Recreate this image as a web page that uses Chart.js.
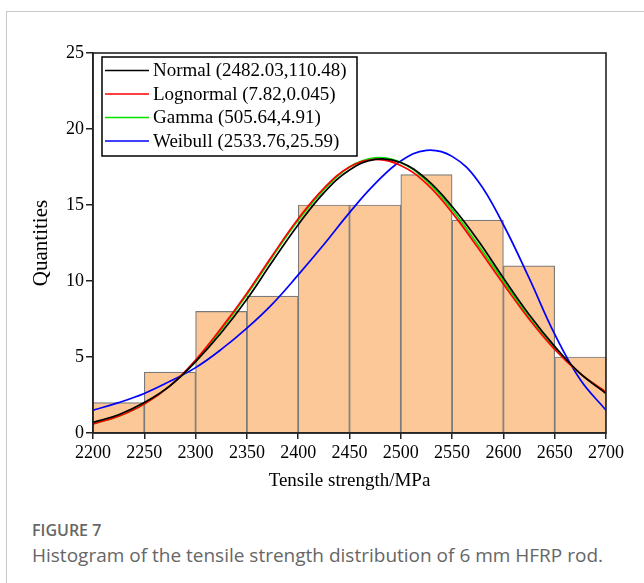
<!DOCTYPE html>
<html>
<head>
<meta charset="utf-8">
<title>Figure 7</title>
<script src="https://cdn.jsdelivr.net/npm/chart.js@4.4.1/dist/chart.umd.min.js"></script>
<style>
    body { margin: 0; background: #fff; width: 644px; height: 583px; overflow: hidden; position: relative; }
    .card { position: absolute; left: 6px; top: 11px; width: 700px; height: 600px; border-left: 1px solid #c8c8c8; border-top: 1px solid #c8c8c8; }
    #wrap { position: absolute; left: 0; top: 0; width: 644px; height: 505px; }
    .fig { position: absolute; left: 32px; top: 522px; font: 600 16px/17px "Open Sans", sans-serif; color: #666; }
    .cap { position: absolute; left: 32px; top: 546px; font: 19px/19px "Open Sans", sans-serif; color: #666; white-space: nowrap; }
</style>
</head>
<body>
<div class="card"></div>
<div id="wrap"><canvas id="chart-1" width="644" height="505"></canvas></div>
<div class="fig">FIGURE 7</div>
<div class="cap">Histogram of the tensile strength distribution of 6 mm HFRP rod.</div>

<script>
// histogram bins (centre of each 50 MPa bin) and counts
const binCenters = [2225, 2275, 2325, 2375, 2425, 2475, 2525, 2575, 2625, 2675]
const counts = [2, 4, 8, 9, 15, 15, 17, 14, 11, 5]

// fitted curves, every 25 MPa
const curveX = [2200, 2225, 2250, 2275, 2300, 2325, 2350, 2375, 2400, 2425, 2450,
                2475, 2500, 2525, 2550, 2575, 2600, 2625, 2650, 2675, 2700]
const normalFit    = [0.7, 1.2, 2.0, 3.1, 4.7, 6.6, 8.8, 11.3, 13.7, 15.8, 17.3, 18.0, 17.8, 16.7, 14.9, 12.7, 10.2, 7.8, 5.7, 3.9, 2.6]
const lognormalFit = [0.6, 1.1, 1.9, 3.1, 4.8, 6.9, 9.2, 11.7, 14.1, 16.1, 17.5, 18.0, 17.6, 16.4, 14.5, 12.2, 9.8, 7.5, 5.5, 3.9, 2.7]
const gammaFit     = [0.6, 1.1, 1.9, 3.1, 4.7, 6.8, 9.1, 11.6, 14.0, 16.0, 17.5, 18.1, 17.8, 16.6, 14.7, 12.4, 10.0, 7.6, 5.6, 3.9, 2.7]
const weibullFit   = [1.5, 2.0, 2.6, 3.4, 4.3, 5.5, 6.9, 8.5, 10.4, 12.4, 14.5, 16.4, 17.9, 18.6, 18.2, 16.6, 13.7, 10.2, 6.5, 3.5, 1.5]

const legendLabels = ["Normal (2482.03,110.48)", "Lognormal (7.82,0.045)", "Gamma (505.64,4.91)", "Weibull (2533.76,25.59)"]
const xTicks = [2200, 2700, 50]
const yTicks = [0, 25, 5]

const SERIF = "'Liberation Serif', 'Times New Roman', serif"

const toPoints = (ys) => curveX.map((x, i) => ({ x, y: ys[i] }))

const curve = (label, ys, color) => ({
    type: 'line',
    label,
    data: toPoints(ys),
    borderColor: color,
    backgroundColor: color,
    borderWidth: 1.7,
    pointRadius: 0,
    tension: 0.4,
    fill: false
})

// frame round the plot + boxed legend in the top-left corner
const framePlugin = {
    id: 'frame',
    afterDraw(chart) {
        const { ctx, chartArea: a } = chart
        ctx.save()
        ctx.strokeStyle = '#222'
        ctx.lineWidth = 1.6
        ctx.strokeRect(a.left, a.top, a.right - a.left, a.bottom - a.top)

        // legend
        const bx = 102, by = 57, bw = 255, bh = 99
        ctx.fillStyle = '#fff'
        ctx.fillRect(bx, by, bw, bh)
        ctx.strokeStyle = '#000'
        ctx.lineWidth = 1.5
        ctx.strokeRect(bx, by, bw, bh)
        ctx.font = "19px " + SERIF
        ctx.textBaseline = 'middle'
        ctx.textAlign = 'left'
        chart.data.datasets.filter(d => d.type === 'line').forEach((d, i) => {
            const y = 70.5 + i * 23.5
            ctx.strokeStyle = d.borderColor
            ctx.lineWidth = 1.5
            ctx.beginPath()
            ctx.moveTo(105, y)
            ctx.lineTo(149, y)
            ctx.stroke()
            ctx.fillStyle = '#000'
            ctx.fillText(d.label, 153, y + 1)
        })
        ctx.restore()
    }
}

const elChart1 = document.querySelector("#chart-1")

const chart1 = new Chart(elChart1, {
    type: 'bar',
    data: {
        datasets: [
            {
                type: 'bar',
                label: 'Counts',
                data: binCenters.map((x, i) => ({ x, y: counts[i] })),
                backgroundColor: '#fdc898',
                borderColor: '#7a7a7a',
                borderWidth: 1.2,
                barPercentage: 1,
                categoryPercentage: 1,
                order: 5
            },
            curve(legendLabels[0], normalFit, '#000000'),
            curve(legendLabels[1], lognormalFit, '#ff0000'),
            curve(legendLabels[2], gammaFit, '#00e000'),
            curve(legendLabels[3], weibullFit, '#0000ff')
        ]
    },
    options: {
        responsive: false,
        animation: false,
        layout: { padding: { left: 0, right: 38, top: 53, bottom: 0 } },
        plugins: {
            legend: { display: false },
            tooltip: { enabled: false }
        },
        scales: {
            x: {
                type: 'linear',
                min: xTicks[0],
                max: xTicks[1],
                offset: false,
                afterFit: (s) => { s.height = 72 },
                ticks: {
                    stepSize: xTicks[2],
                    autoSkip: false,
                    maxRotation: 0,
                    padding: 3,
                    color: '#000',
                    font: { family: SERIF, size: 18 },
                    callback: (v) => String(v)
                },
                grid: { offset: false, drawOnChartArea: false, drawTicks: true, tickLength: 6, color: '#222', lineWidth: 1.5 },
                border: { color: '#222', width: 1.6 },
                title: {
                    display: true,
                    text: 'Tensile strength/MPa',
                    color: '#000',
                    font: { family: SERIF, size: 19 },
                    padding: { top: 0, bottom: 13 }
                }
            },
            y: {
                min: yTicks[0],
                max: yTicks[1],
                afterFit: (s) => { s.width = 93 },
                ticks: {
                    stepSize: yTicks[2],
                    padding: 2,
                    color: '#000',
                    font: { family: SERIF, size: 18 }
                },
                grid: { drawOnChartArea: false, drawTicks: true, tickLength: 7, color: '#222', lineWidth: 1.5 },
                border: { color: '#222', width: 1.6 },
                title: {
                    display: true,
                    text: 'Quantities',
                    color: '#000',
                    font: { family: SERIF, size: 21 },
                    padding: { top: 29, bottom: 0 }
                }
            }
        }
    },
    plugins: [framePlugin]
})
</script>
</body>
</html>
